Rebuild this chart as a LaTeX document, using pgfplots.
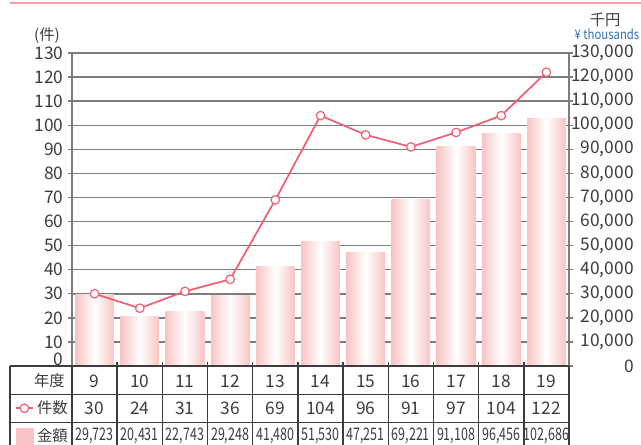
\documentclass[border=0pt]{standalone}
\usepackage{pgfplots}
\pgfplotsset{compat=1.18}
\usepackage{fontspec}
\setmainfont{Noto Sans CJK JP}
\newfontfamily\condfont{Noto Sans CJK JP}[FakeStretch=0.72]
\newfontfamily\narrowfont{Noto Sans CJK JP}[FakeStretch=0.85]
\definecolor{barpink}{RGB}{249,196,196}
\definecolor{linered}{RGB}{240,96,117}
\definecolor{gridgray}{RGB}{125,125,125}
\definecolor{tablegray}{RGB}{60,60,60}
\definecolor{textgray}{RGB}{60,60,60}
\definecolor{toppink}{RGB}{244,160,170}
\definecolor{yenblue}{RGB}{50,110,180}
\newcommand\numsize{\fontsize{13}{15}\selectfont}
\newcommand\jpsize{\fontsize{11.5}{13}\selectfont}
\newcommand\tcell[4]{\node[anchor=base, inner sep=0pt, text=textgray, font=#4] at (axis cs:#1,#2) {#3};}
\newcommand\tvline[1]{\draw[tablegray, line width=1.1pt] (axis cs:#1,1.5) -- (axis cs:#1,-40);}
\pgfplotsset{
  shortline legend/.style={legend image code/.code={\draw[mark repeat=2,mark phase=2,##1] plot coordinates {(0pt,0pt) (6.4pt,0pt) (12.8pt,0pt)};}},
  square legend/.style={legend image code/.code={\fill[barpink] (0pt,-6.4pt) rectangle (12.8pt,6.4pt);}},
  pbar/.style={ybar, bar width=29pt, bar shift=0pt, draw=none, left color=barpink, right color=barpink, middle color=white},
}
\begin{document}
\begin{tikzpicture}
\path[use as bounding box] (-54pt,-58.5pt) rectangle (426.75pt,274.5pt);
% amounts (right axis) with grid and bars
\begin{axis}[
  scale only axis, width=372.75pt, height=234.75pt,
  xmin=-0.5, xmax=10.5, ymin=0, ymax=130000,
  axis x line=none, axis y line*=right, ytick pos=right, yticklabel pos=right,
  ytick={0,10000,...,130000}, scaled y ticks=false,
  ymajorgrids, grid style={gridgray, line width=1.1pt},
  y axis line style={gridgray, line width=1.1pt, -},
  tick align=outside, major tick length=3pt,
  ytick style={gridgray, line width=1pt},
  yticklabel style={font=\numsize, text=textgray, anchor=east, xshift=49pt,
    /pgf/number format/fixed, /pgf/number format/precision=0,
    /pgf/number format/1000 sep={,}},
  /pgf/number format/assume math mode=true,
]
\addplot[pbar] coordinates {(0,29723)};
\addplot[pbar] coordinates {(1,20431)};
\addplot[pbar] coordinates {(2,22743)};
\addplot[pbar] coordinates {(3,29248)};
\addplot[pbar] coordinates {(4,41480)};
\addplot[pbar] coordinates {(5,51530)};
\addplot[pbar] coordinates {(6,47251)};
\addplot[pbar] coordinates {(7,69221)};
\addplot[pbar] coordinates {(8,91108)};
\addplot[pbar] coordinates {(9,96456)};
\addplot[pbar] coordinates {(10,102686)};
\end{axis}
% counts (left axis), line, table
\begin{axis}[
  scale only axis, width=372.75pt, height=234.75pt,
  xmin=-0.5, xmax=10.5, ymin=0, ymax=130,
  axis x line=none, axis y line*=left, ytick pos=left, yticklabel pos=left,
  ytick={10,20,...,130}, extra y ticks={0},
  extra y tick style={yticklabel style={yshift=5pt, inner ysep=0pt}},
  y axis line style={gridgray, line width=1.1pt, -},
  tick align=outside, major tick length=3pt,
  ytick style={gridgray, line width=1pt},
  yticklabel style={font=\numsize, text=textgray, inner ysep=0pt},
  /pgf/number format/assume math mode=true,
  clip=false,
  legend cell align=left,
  legend style={draw=none, fill=none, at={(-0.1147,-0.1112)}, anchor=north west,
    inner sep=0pt, outer sep=0pt, row sep=8.85pt,
    nodes={inner xsep=2.5pt, inner ysep=0pt, font=\jpsize, text=textgray}},
]
\addplot[linered, line width=1.3pt, mark=*, mark size=3.2pt,
  mark options={fill=white, draw=linered, line width=0.9pt, solid}, shortline legend]
  coordinates {(0,30) (1,24) (2,31) (3,36) (4,69) (5,104) (6,96) (7,91) (8,97) (9,104) (10,122)};
\addlegendentry{件数}
\addlegendimage{square legend}
\addlegendentry{金額}
% top rule
\draw[toppink, line width=1.1pt] (axis cs:-1.872,150.8) -- (axis cs:12.3,150.8);
% unit labels
\node[font=\jpsize, text=textgray] at (axis cs:-1.053,137.1) {(件)};
\node[font=\jpsize, text=textgray] at (axis cs:11.30,143.9) {千円};
\node[font=\narrowfont\fontsize{10}{12}\selectfont, text=yenblue] at (axis cs:11.34,137.7) {¥ thousands};
% table lines
\draw[tablegray, line width=1.1pt] (axis cs:-1.872,0) -- (axis cs:10.5,0);
\draw[tablegray, line width=1.1pt] (axis cs:-1.872,-11.84) -- (axis cs:10.5,-11.84);
\draw[tablegray, line width=1.1pt] (axis cs:-1.872,-23.47) -- (axis cs:10.5,-23.47);
\draw[tablegray, line width=1.1pt] (axis cs:-1.872,0) -- (axis cs:-1.872,-40);
\draw[tablegray, line width=1.1pt] (axis cs:-0.5,0) -- (axis cs:-0.5,-40);
\draw[tablegray, line width=1.1pt] (axis cs:10.5,0) -- (axis cs:10.5,-40);
\tvline{0.5}\tvline{1.5}\tvline{2.5}\tvline{3.5}\tvline{4.5}
\tvline{5.5}\tvline{6.5}\tvline{7.5}\tvline{8.5}\tvline{9.5}
% row headers
\node[font=\jpsize, text=textgray, anchor=east, inner sep=0pt] at (axis cs:-0.655,-6.0) {年度};
% row 1
\tcell{0}{-8.85}{9}{\numsize}
\tcell{1}{-8.85}{10}{\numsize}
\tcell{2}{-8.85}{11}{\numsize}
\tcell{3}{-8.85}{12}{\numsize}
\tcell{4}{-8.85}{13}{\numsize}
\tcell{5}{-8.85}{14}{\numsize}
\tcell{6}{-8.85}{15}{\numsize}
\tcell{7}{-8.85}{16}{\numsize}
\tcell{8}{-8.85}{17}{\numsize}
\tcell{9}{-8.85}{18}{\numsize}
\tcell{10}{-8.85}{19}{\numsize}
% row 2
\tcell{0}{-19.94}{30}{\numsize}
\tcell{1}{-19.94}{24}{\numsize}
\tcell{2}{-19.94}{31}{\numsize}
\tcell{3}{-19.94}{36}{\numsize}
\tcell{4}{-19.94}{69}{\numsize}
\tcell{5}{-19.94}{104}{\numsize}
\tcell{6}{-19.94}{96}{\numsize}
\tcell{7}{-19.94}{91}{\numsize}
\tcell{8}{-19.94}{97}{\numsize}
\tcell{9}{-19.94}{104}{\numsize}
\tcell{10}{-19.94}{122}{\numsize}
% row 3
\tcell{0}{-30.94}{29,723}{\condfont\numsize}
\tcell{1}{-30.94}{20,431}{\condfont\numsize}
\tcell{2}{-30.94}{22,743}{\condfont\numsize}
\tcell{3}{-30.94}{29,248}{\condfont\numsize}
\tcell{4}{-30.94}{41,480}{\condfont\numsize}
\tcell{5}{-30.94}{51,530}{\condfont\numsize}
\tcell{6}{-30.94}{47,251}{\condfont\numsize}
\tcell{7}{-30.94}{69,221}{\condfont\numsize}
\tcell{8}{-30.94}{91,108}{\condfont\numsize}
\tcell{9}{-30.94}{96,456}{\condfont\numsize}
\tcell{10}{-30.94}{102,686}{\condfont\numsize}
\end{axis}
\end{tikzpicture}
\end{document}
